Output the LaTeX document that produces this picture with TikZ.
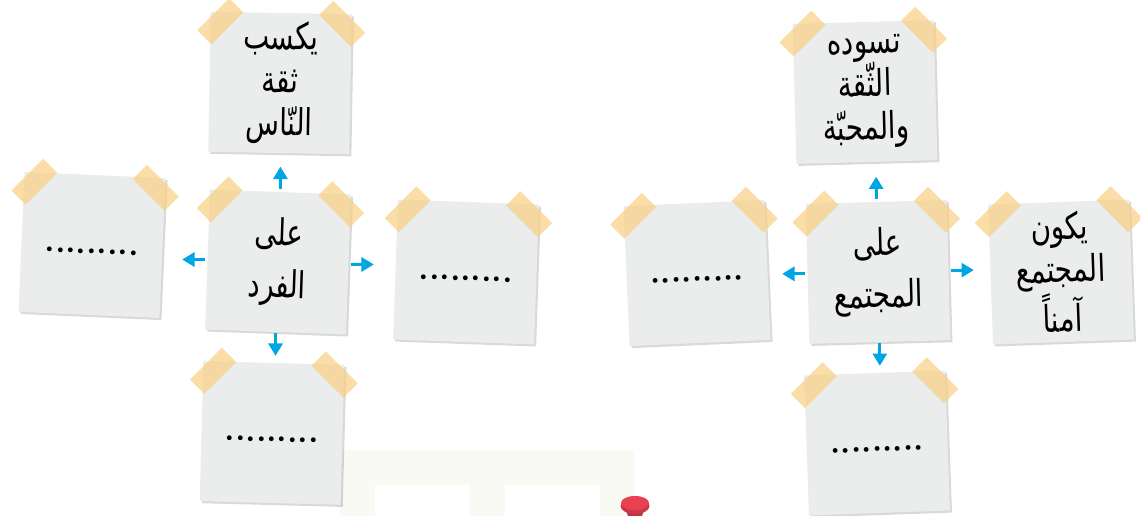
\documentclass[tikz,border=0pt]{standalone}
\usepackage{fontspec}
\newfontfamily\arabicfont[Script=Arabic,FakeStretch=0.75]{DejaVu Sans}
\TeXXeTstate=1
\usetikzlibrary{arrows.meta,calc,shadows}

\definecolor{notegray}{RGB}{235,236,236}
\definecolor{tapeyellow}{RGB}{248,207,130}
\definecolor{arrowblue}{RGB}{0,166,228}
\definecolor{pinred}{RGB}{234,64,80}
\definecolor{faint}{RGB}{249,250,243}

\tikzset{
  note/.style={fill=notegray, minimum width=2.82cm, minimum height=2.8cm,
    inner sep=0pt, align=center, font=\arabicfont\fontsize{21}{24.5}\selectfont,
    drop shadow={shadow xshift=1.2pt, shadow yshift=-1.2pt, fill=black, opacity=0.15}},
  dotline/.style={font=\rmfamily\bfseries\fontsize{19}{20}\selectfont,
    text height=10pt, text depth=0pt},
  tape/.style={fill=tapeyellow, fill opacity=0.7, minimum width=0.9cm,
    minimum height=0.4cm, inner sep=0pt},
  arr/.style={arrowblue, line width=1.6pt, -{Triangle[length=7pt,width=8pt]}}
}

\begin{document}
\begin{tikzpicture}[x=0.02cm,y=-0.02cm]
\useasboundingbox (0,0) rectangle (1140,516);
\fill[white] (0,0) rectangle (1140,516);

% faint background
\fill[faint] (340,450) rectangle (634,516);
\fill[white] (375,485) rectangle (470,516);
\fill[white] (505,485) rectangle (600,516);

% left group
\node[note, rotate=-1] (tL) at (280,83) {\beginR يكسب\endR\\\beginR ثقة\endR\\\beginR النّاس\endR};
\node[note, rotate=-2] (cL) at (278,262) {\beginR على\endR\\[5pt]\beginR الفرد\endR};
\node[note, dotline, rotate=-2.5] (lL) at (92,245) {.........};
\node[note, dotline, rotate=-2] (rL) at (466,272) {.........};
\node[note, dotline, rotate=-1.5] (bL) at (272,433) {.........};

% right group
\node[note, rotate=1.5] (tR) at (865,92) {\beginR تسوده\endR\\\beginR الثّقة\endR\\\beginR والمحبّة\endR};
\node[note, rotate=1.5] (cR) at (878,272) {\beginR على\endR\\[5pt]\beginR المجتمع\endR};
\node[note, dotline, rotate=2.5] (lR) at (697,273) {.........};
\node[note, rotate=2] (rR) at (1061,272) {\beginR يكون\endR\\\beginR المجتمع\endR\\\beginR آمناً\endR};
\node[note, dotline, rotate=2] (bR) at (877,443) {.........};

% tapes
\foreach \n in {tL,cL,lL,rL,bL,tR,cR,lR,rR,bR}{
  \node[tape, rotate=45] (\n-a) at ($(\n.north west)+(10,10)$) {};
  \node[tape, rotate=-45] (\n-b) at ($(\n.north east)+(-10,10)$) {};
}

% arrows
\draw[arr] ($(cL.north)!0.05cm!(cL.north |- tL.south)$) -- ($(cL.north)!0.5cm!(cL.north |- tL.south)$);
\draw[arr] ($(cL.west)!0.05cm!(cL.west -| lL.east)$) -- ($(cL.west)!0.5cm!(cL.west -| lL.east)$);
\draw[arr] ($(cL.east)!0.05cm!(cL.east -| rL.west)$) -- ($(cL.east)!0.5cm!(cL.east -| rL.west)$);
\draw[arr] ($(cL.south)!0.02cm!(cL.south |- bL.north)$) -- ($(cL.south)!0.47cm!(cL.south |- bL.north)$);

\draw[arr] ($(cR.north)!0.05cm!(cR.north |- tR.south)$) -- ($(cR.north)!0.5cm!(cR.north |- tR.south)$);
\draw[arr] ($(cR.west)!0.05cm!(cR.west -| lR.east)$) -- ($(cR.west)!0.5cm!(cR.west -| lR.east)$);
\draw[arr] ($(cR.east)!0.05cm!(cR.east -| rR.west)$) -- ($(cR.east)!0.5cm!(cR.east -| rR.west)$);
\draw[arr] ($(cR.south)!0.02cm!(cR.south |- bR.north)$) -- ($(cR.south)!0.47cm!(cR.south |- bR.north)$);

% red pin
\fill[pinred!80!black] (625,507) -- (645,507) -- (642,516) -- (628,516) -- cycle;
\fill[pinred!88!black] (635,506) ellipse [x radius=0.29cm, y radius=0.16cm];
\fill[pinred] (635,503) ellipse [x radius=0.28cm, y radius=0.14cm];
\end{tikzpicture}
\end{document}
